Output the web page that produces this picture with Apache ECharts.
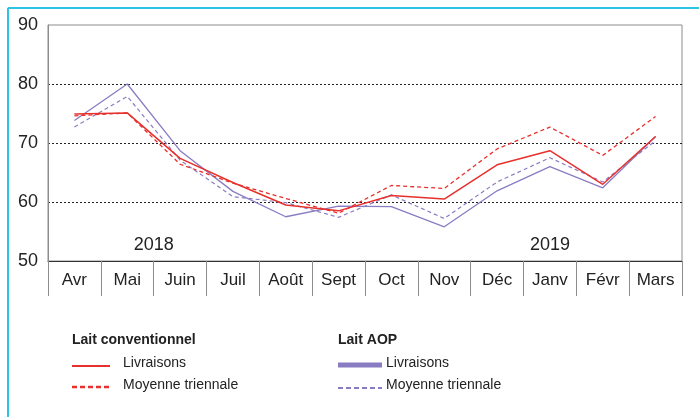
<!DOCTYPE html>
<html><head><meta charset="utf-8">
<script src="https://cdn.jsdelivr.net/npm/echarts@6/dist/echarts.min.js"></script>
<style>html,body{margin:0;padding:0;background:#fff}#c{width:699px;height:417px}</style>
</head><body><div id="c"></div>
<script>
const categories = ['Avr','Mai','Juin','Juil','Août','Sept','Oct','Nov','Déc','Janv','Févr','Mars'];
const convLivraisons = [74.9,75.1,67.4,63.3,59.5,58.5,61.1,60.5,66.3,68.7,63.0,71.1];
const convMoyenne    = [74.6,75.1,66.4,63.2,60.6,58.1,62.8,62.3,69.0,72.7,67.9,74.5];
const aopLivraisons  = [73.8,80.0,68.7,61.8,57.5,59.3,59.2,55.8,61.9,66.0,62.4,71.1];
const aopMoyenne     = [72.7,77.9,67.1,60.9,59.9,57.4,61.2,57.2,63.4,67.5,63.4,70.4];
const yTicks = [50,60,70,80,90];

const RED = '#e8302c', PURPLE = '#8a7cc2';
const FONT = 'Liberation Sans, Arial, sans-serif';
const chart = echarts.init(document.getElementById('c'));
function lineSeries(name, data, color, width, dashed, z){
  return {name, type:'line', data, symbol:'none', z,
    lineStyle:{color, width, type: dashed ? [4,3] : 'solid'}, itemStyle:{color}};
}
chart.setOption({
  animation:false,
  textStyle:{fontFamily:FONT},
  grid:{left:48,right:17,top:25,bottom:156,show:true,borderColor:'#8c8c8c',borderWidth:1},
  xAxis:{type:'category',data:categories,boundaryGap:true,
    axisLine:{lineStyle:{color:'#333',width:1}},
    axisTick:{show:true,length:35,interval:0,lineStyle:{color:'#8c8c8c'}},
    axisLabel:{color:'#222',fontSize:17,margin:11,fontFamily:FONT,interval:0}},
  yAxis:{type:'value',min:yTicks[0],max:yTicks[yTicks.length-1],interval:10,
    axisLine:{show:true,lineStyle:{color:'#8c8c8c'}},axisTick:{show:false},
    axisLabel:{color:'#222',fontSize:18,margin:10,fontFamily:FONT},
    splitLine:{show:true,showMinLine:false,showMaxLine:false,lineStyle:{color:'#222',type:[2,2],width:1}}},
  series:[
    lineSeries('AOP Moyenne', aopMoyenne, PURPLE, 1.2, true, 2),
    lineSeries('AOP Livraisons', aopLivraisons, PURPLE, 1.3, false, 3),
    lineSeries('Conv Moyenne', convMoyenne, RED, 1.3, true, 4),
    lineSeries('Conv Livraisons', convLivraisons, RED, 1.5, false, 5)
  ]
});
const pMai = chart.convertToPixel({xAxisIndex:0,yAxisIndex:0},['Mai',52.7]);
const pJuin = chart.convertToPixel({xAxisIndex:0,yAxisIndex:0},['Juin',52.7]);
const p2019 = chart.convertToPixel({xAxisIndex:0,yAxisIndex:0},['Janv',52.7]);
const txt = (x,y,t,opt={}) => ({type:'text',left:x,top:y,style:Object.assign({text:t,fill:'#222',font:'14px '+FONT},opt)});
chart.setOption({graphic:[
  {type:'line',shape:{x1:8,y1:8,x2:699,y2:8},style:{stroke:'#2ec4e6',lineWidth:2}},
  {type:'line',shape:{x1:8,y1:8,x2:8,y2:417},style:{stroke:'#2ec4e6',lineWidth:2}},
  {type:'text',x:(pMai[0]+pJuin[0])/2,y:pMai[1],style:{text:'2018',fill:'#222',font:'18px '+FONT,align:'center',verticalAlign:'middle'}},
  {type:'text',x:p2019[0],y:p2019[1],style:{text:'2019',fill:'#222',font:'18px '+FONT,align:'center',verticalAlign:'middle'}},
  txt(72,333,'Lait conventionnel',{font:'bold 14px '+FONT}),
  {type:'line',shape:{x1:72,y1:366,x2:110,y2:366},style:{stroke:RED,lineWidth:1.8}},
  txt(123,356,'Livraisons'),
  {type:'line',shape:{x1:72,y1:387,x2:110,y2:387},style:{stroke:RED,lineWidth:2.5,lineDash:[5,3]}},
  txt(123,378,'Moyenne triennale'),
  txt(338,333,'Lait AOP',{font:'bold 14px '+FONT}),
  {type:'line',shape:{x1:338,y1:365,x2:382,y2:365},style:{stroke:PURPLE,lineWidth:5}},
  txt(386,356,'Livraisons'),
  {type:'line',shape:{x1:338,y1:388,x2:382,y2:388},style:{stroke:PURPLE,lineWidth:2,lineDash:[5,3]}},
  txt(386,378,'Moyenne triennale')
]});
</script></body></html>
